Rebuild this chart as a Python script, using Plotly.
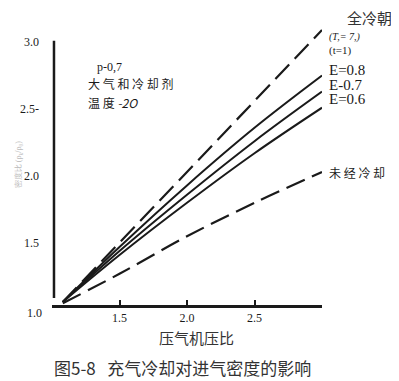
import plotly.graph_objects as go

# Data
pressure_ratio = [1.08, 1.5, 2.0, 2.5, 3.0]
full_cooling = [1.06, 1.50, 2.03, 2.56, 3.09]
e_08 = [1.06, 1.47, 1.93, 2.36, 2.75]
e_07 = [1.06, 1.44, 1.86, 2.26, 2.63]
e_06 = [1.06, 1.41, 1.80, 2.17, 2.51]
uncooled = [1.05, 1.27, 1.55, 1.80, 2.03]

x_ticks = [1.5, 2.0, 2.5, 3.0]
x_tick_text = ["1.5", "2.0", "2.5", " "]
y_ticks = [1.5, 2.0, 2.5, 3.0]
y_tick_text = ["1.5", "2.0", "2.5-", "3.0"]

SERIF = "Liberation Serif, DejaVu Serif, serif"
CJK = "Noto Sans CJK SC, Noto Sans, sans-serif"
INK = "#1a1a1a"

# page body has an 8px margin; figure is sized so that page coords line up
OFF = 8
W, H = 399 - OFF, 381 - OFF
PL, PR, PT, PB = 50, 322, 26, 305  # plot area in page pixels


def px(x):
    return (x - PL) / (PR - PL)


def py(y):
    return (PB - y) / (PB - PT)


fig = go.Figure()
dash_long = "20px,8px"
fig.add_trace(go.Scatter(x=pressure_ratio, y=full_cooling, mode="lines",
                         line=dict(color=INK, width=2.2, dash=dash_long), name="全冷却"))
for ys in (e_08, e_07, e_06):
    fig.add_trace(go.Scatter(x=pressure_ratio, y=ys, mode="lines",
                             line=dict(color=INK, width=2), line_shape="spline"))
fig.add_trace(go.Scatter(x=pressure_ratio, y=uncooled, mode="lines",
                         line=dict(color=INK, width=2.2, dash=dash_long), line_shape="spline"))


def ann(text, x, y, size, font=SERIF, xanchor="left", color=INK, **kw):
    fig.add_annotation(text=text, x=px(x), y=py(y), xref="paper", yref="paper", showarrow=False,
                       xanchor=xanchor, yanchor="middle",
                       font=dict(family=font, size=size, color=color), **kw)


ann("全冷朝", 370, 18, 15, font=CJK, xanchor="center", color="#333")
ann("<i>(T,= 7,)</i>", 327, 37, 10)
ann("(t=1)", 327, 51, 11)
ann("E=0.8", 327, 70, 15)
ann("E-0.7", 327, 85, 15)
ann("E=0.6", 327, 99, 15)
ann("未 经 冷 却", 327, 172, 12, font=CJK)
ann("p-0,7", 93, 67, 12)
ann("大 气 和 冷 却 剂", 84, 83, 12, font=CJK)
ann("温 度 <i>-2O</i>", 84, 102, 12, font=CJK)
ann("1.0", 42, 313, 12, xanchor="right")
ann("压气机压比", 196, 338, 15, font=CJK, xanchor="center", color="#333")
ann("图5-8&nbsp;&nbsp;&nbsp;充气冷却对进气密度的影响", 181, 367, 17, font=CJK, xanchor="center",
    color="#333")
ann("密度比 (ρ<sub>k</sub>/ρ<sub>0</sub>)", 17, 165, 8, xanchor="center", color="#bbbbbb",
    textangle=-90)

# y axis line (partial, as in the scan)
fig.add_shape(type="line", xref="paper", yref="y", x0=px(52), x1=px(52), y0=1.09, y1=3.01,
              line=dict(color=INK, width=2.5))

fig.update_layout(
    width=W, height=H,
    margin=dict(l=PL - OFF, r=W - (PR - OFF), t=PT - OFF, b=H - (PB - OFF)),
    paper_bgcolor="white", plot_bgcolor="white",
    showlegend=False,
    xaxis=dict(range=[1.0, 3.0], tickvals=x_ticks, ticktext=x_tick_text,
               showline=True, linecolor=INK, linewidth=2.5, ticks="inside", ticklen=5,
               tickwidth=2, tickcolor=INK, showgrid=False, zeroline=False,
               tickfont=dict(family=SERIF, size=12, color=INK), ticklabelstandoff=0),
    yaxis=dict(range=[1.037, 3.12], tickvals=y_ticks, ticktext=y_tick_text,
               showline=False, ticks="", showgrid=False, zeroline=False,
               tickfont=dict(family=SERIF, size=12, color=INK), ticklabelstandoff=12),
)

fig.write_html("out.html")
